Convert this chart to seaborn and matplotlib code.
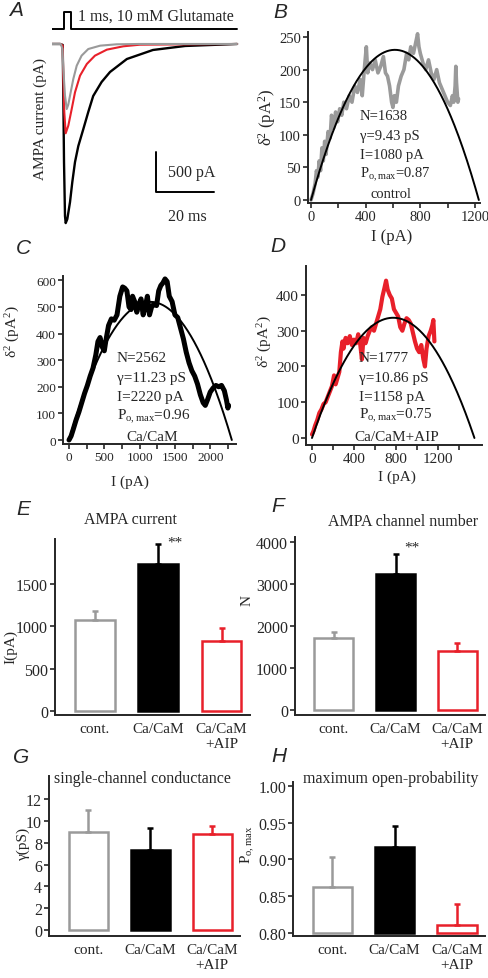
import numpy as np
import pandas as pd
import matplotlib
matplotlib.use('Agg')
import matplotlib.pyplot as plt
import seaborn as sns

# ---- panel A: example AMPA currents (ms, pA) ----
ctrl_t = [0, 3.0, 3.6, 3.9, 4.48, 5.07, 5.6, 6.21, 7.34, 8.52, 10.2, 12.5, 16.6, 22.3, 30.0, 63.8]
ctrl_i = [0, 0, -60, -313, -646, -813, -760, -646, -438, -271, -146, -63, -21, -4, 0, 0]
aip_t = [0, 3.0, 3.69, 3.9, 4.24, 4.72, 5.62, 6.79, 7.93, 9.66, 12.0, 14.8, 18.9, 24.6, 30.3, 63.8]
aip_i = [0, 0, -21, -438, -854, -1116, -1021, -813, -604, -396, -250, -146, -71, -29, -9, 0]
cam_t = [0, 2.76, 3.69, 3.9, 4.14, 4.48, 4.72, 5.28, 6.21, 7.0, 7.93, 9.07, 10.8, 12.5, 14.2,
         17.1, 20.0, 25.8, 34.8, 45.9, 63.8]
cam_i = [0, 0, -12, -646, -1475, -2150, -2238, -2188, -1975, -1725, -1475, -1275, -1063, -850,
         -650, -475, -350, -188, -75, -25, 0]
stim_t = [0, 4.14, 4.14, 6.55, 6.55, 63.8]
stim_y = [188, 188, 400, 400, 188, 188]

# ---- panels B-D: variance vs mean current ----
b_I = [0, 15, 30, 40, 50, 60, 70, 80, 90, 100, 110, 125, 140, 150, 165, 180, 195, 210, 225, 240,
       260, 280, 300, 320, 340, 360, 375, 390, 405, 415, 430, 450, 470, 490, 510, 530, 545, 560,
       575, 590, 600, 610, 625, 640, 660, 680, 700, 715, 730, 750, 770, 780, 790, 800, 820, 840,
       860, 880, 900, 920, 940, 960, 980, 1000, 1020, 1035, 1045, 1055, 1060, 1065, 1075, 1080]
b_var = [0, 10, 25, 45, 35, 60, 45, 80, 60, 90, 70, 105, 95, 130, 110, 135, 120, 140, 130, 150,
         140, 160, 150, 175, 165, 185, 160, 200, 235, 195, 210, 200, 215, 195, 205, 220, 195, 190,
         175, 150, 142, 160, 150, 175, 190, 200, 225, 215, 235, 225, 245, 255, 235, 225, 210, 200,
         215, 195, 185, 200, 180, 170, 160, 150, 145, 160, 150, 175, 205, 180, 150, 155]
c_I = [0, 30, 60, 100, 140, 180, 220, 260, 300, 340, 380, 410, 440, 470, 500, 520, 560, 600, 640,
       680, 720, 760, 790, 820, 850, 880, 900, 930, 960, 990, 1020, 1050, 1080, 1110, 1140, 1170,
       1200, 1240, 1270, 1300, 1330, 1360, 1390, 1420, 1460, 1500, 1540, 1580, 1620, 1660, 1700,
       1740, 1780, 1820, 1860, 1900, 1930, 1960, 2000, 2040, 2080, 2120, 2160, 2200, 2230, 2250,
       2260]
c_var = [0, 15, 40, 75, 105, 140, 175, 205, 240, 270, 320, 370, 385, 350, 335, 370, 430, 455, 450,
         470, 540, 575, 570, 560, 500, 490, 540, 520, 480, 510, 530, 470, 500, 540, 470, 500, 510,
         505, 560, 580, 590, 605, 595, 540, 520, 470, 460, 420, 380, 330, 290, 260, 240, 210, 170,
         140, 130, 150, 180, 195, 205, 200, 205, 185, 150, 120, 130]
d_I = [0, 15, 30, 50, 70, 90, 110, 130, 150, 170, 190, 210, 225, 240, 260, 275, 290, 300, 320,
       340, 360, 380, 400, 420, 440, 460, 475, 490, 510, 530, 550, 570, 590, 610, 630, 650, 670,
       690, 705, 720, 740, 760, 780, 800, 820, 840, 860, 880, 900, 920, 940, 960, 980, 1000, 1020,
       1040, 1060, 1075, 1090, 1110, 1130, 1145, 1155, 1165]
d_var = [10, 20, 35, 50, 70, 80, 95, 100, 115, 130, 145, 175, 150, 165, 185, 240, 270, 250, 280,
         265, 285, 260, 275, 265, 290, 260, 220, 280, 265, 285, 300, 310, 300, 320, 340, 360, 395,
         420, 440, 415, 400, 390, 360, 350, 340, 310, 300, 320, 335, 330, 320, 295, 270, 250, 240,
         260, 220, 200, 250, 285, 300, 315, 330, 270]
# parabola fits: unitary current i (pA) and channel number N
fit_i = [0.75, 0.90, 0.87]
fit_N = [1638, 2562, 1777]
notes_b = ['N=1638', 'γ=9.43 pS', 'I=1080 pA', 'P$_{\\rm o,max}$=0.87']
notes_c = ['N=2562', 'γ=11.23 pS', 'I=2220 pA', 'P$_{\\rm o,max}$=0.96']
notes_d = ['N=1777', 'γ=10.86 pS', 'I=1158 pA', 'P$_{\\rm o,max}$=0.75']

# ---- panels E-H: summary bars ----
groups = ['cont.', 'Ca/CaM', 'Ca/CaM\n+AIP']
amp_mean = [1065, 1735, 825]
amp_err = [115, 225, 150]
num_mean = [1715, 3235, 1405]
num_err = [140, 470, 190]
gam_mean = [9.0, 7.3, 8.75]
gam_err = [2.0, 2.0, 0.75]
po_mean = [0.8625, 0.917, 0.811]
po_err = [0.040, 0.028, 0.028]

GRAY = '#9a9a9a'
RED = '#e8202a'
edge_cols = [GRAY, 'black', RED]
face_cols = ['white', 'black', 'white']

sns.set_style('ticks')
plt.rcParams['font.family'] = ['Liberation Serif', 'DejaVu Serif']
plt.rcParams['mathtext.fontset'] = 'custom'
plt.rcParams['mathtext.rm'] = 'Liberation Serif'
plt.rcParams['mathtext.it'] = 'Liberation Serif:italic'
plt.rcParams['axes.linewidth'] = 1.4
plt.rcParams['xtick.major.width'] = 1.2
plt.rcParams['ytick.major.width'] = 1.2
plt.rcParams['xtick.minor.width'] = 1.2

W, H = 488, 979
fig = plt.figure(figsize=(W / 100, H / 100), dpi=100)


def add_ax(l, t, r, b):
    return fig.add_axes([l / W, 1 - b / H, (r - l) / W, (b - t) / H])


def ftext(x, y, s, **kw):
    kw.setdefault('va', 'center')
    fig.text(x / W, 1 - y / H, s, **kw)


# ---------- A ----------
axA = add_ax(52, 8, 240, 228)
sns.lineplot(x=cam_t, y=cam_i, sort=False, ax=axA, color='black', lw=1.7)
sns.lineplot(x=aip_t, y=aip_i, sort=False, ax=axA, color=RED, lw=1.5)
sns.lineplot(x=ctrl_t, y=ctrl_i, sort=False, ax=axA, color=GRAY, lw=1.5)
axA.plot(stim_t, stim_y, color='black', lw=1.4)
axA.plot([35.9, 35.9, 55.9], [-1350, -1850, -1850], color='black', lw=1.4)
axA.text(40, -1600, '500 pA', fontsize=11.5, va='center')
axA.text(46.6, -2150, '20 ms', fontsize=11.5, va='center', ha='center')
axA.set_xlim(0, 64.8)
axA.set_ylim(-2287, 462)
axA.axis('off')
ftext(78, 17, '1 ms, 10 mM Glutamate', fontsize=11.5)
ftext(40, 119, 'AMPA current (pA)', fontsize=11, rotation=90, ha='center')


# ---------- B, C, D ----------
def var_panel(ax, I, v, col, lw, k, xlim, ylim, xmaj, xmin, yt, tfs):
    sns.lineplot(x=I, y=v, sort=False, ax=ax, color=col, lw=lw)
    grid = np.linspace(0, fit_i[k] * fit_N[k], 200)
    ax.plot(grid, fit_i[k] * grid - grid ** 2 / fit_N[k], color='black', lw=1.4)
    ax.set_xlim(*xlim)
    ax.set_ylim(*ylim)
    ax.set_xticks(xmaj)
    ax.set_xticks(xmin, minor=True)
    ax.set_yticks(yt)
    ax.tick_params(labelsize=tfs, length=3.5, pad=1.5)
    ax.tick_params(which='minor', length=3.5)
    ax.set_xlabel('')
    ax.set_ylabel('')
    sns.despine(ax=ax)


axB = add_ax(308, 33, 480, 204)
var_panel(axB, b_I, b_var, GRAY, 2.6, 0, (-22, 1237), (-4.6, 257.7),
          [0, 400, 800, 1200], [200, 600, 1000], range(0, 251, 50), 10.5)
axC = add_ax(63, 277, 236, 445)
var_panel(axC, c_I, c_var, 'black', 3.6, 1, (-85, 2365), (-15, 616),
          range(0, 2001, 500), range(250, 2300, 500), range(0, 601, 100), 9.5)
axD = add_ax(306, 267, 482, 446)
var_panel(axD, d_I, d_var, RED, 3.0, 2, (-57, 1618), (-19.6, 481),
          [0, 400, 800, 1200], [200, 600, 1000, 1400], range(0, 401, 100), 11)

ftext(392, 237, 'I (pA)', fontsize=12, ha='center')
ftext(130, 482, 'I (pA)', fontsize=11, ha='center')
ftext(397, 477, 'I (pA)', fontsize=11, ha='center')
ftext(267, 117, 'δ$^2$ (pA$^2$)', fontsize=12, rotation=90, ha='center')
ftext(13, 332, 'δ$^2$ (pA$^2$)', fontsize=11, rotation=90, ha='center')
ftext(265, 342, 'δ$^2$ (pA$^2$)', fontsize=11, rotation=90, ha='center')

for s, y in zip(notes_b, [117, 137, 156, 175]):
    ftext(360, y, s, fontsize=10.5)
ftext(391, 195, 'control', fontsize=10.5, ha='center')
for s, y in zip(notes_c, [359, 379, 397, 417]):
    ftext(117, y, s, fontsize=11)
ftext(152, 438, 'Ca/CaM', fontsize=11, ha='center')
for s, y in zip(notes_d, [359, 379, 397, 416]):
    ftext(359, y, s, fontsize=11)
ftext(397, 438, 'Ca/CaM+AIP', fontsize=11, ha='center')


# ---------- E, F, G, H ----------
def bar_panel(ax, mean, err, ylim, yt, base=0.0, fmt=None):
    df = pd.DataFrame({'group': groups, 'value': mean})
    sns.barplot(data=df, x='group', y='value', hue='group', palette=face_cols,
                legend=False, ax=ax, width=0.63, errorbar=None)
    for p, m, fc, ec in zip(ax.patches, mean, face_cols, edge_cols):
        p.set_facecolor(fc)
        p.set_edgecolor(ec)
        p.set_linewidth(1.8)
        p.set_y(base)
        p.set_height(m - base)
    for k in range(3):
        ax.errorbar(k, mean[k], yerr=[[0], [err[k]]], fmt='none', ecolor=edge_cols[k],
                    elinewidth=1.8, capsize=2.5, capthick=1.8)
    ax.set_xlim(-0.63, 2.45)
    ax.set_ylim(*ylim)
    ax.set_yticks(yt)
    if fmt:
        ax.set_yticklabels([fmt % t for t in yt])
    ax.tick_params(axis='x', length=0, pad=5, labelsize=11)
    ax.tick_params(axis='y', length=3.5, pad=1.5, labelsize=11.5)
    ax.set_xlabel('')
    ax.set_ylabel('')
    sns.despine(ax=ax)


axE = add_ax(55, 540, 250, 716)
bar_panel(axE, amp_mean, amp_err, (-47, 2024), [0, 500, 1000, 1500])
axE.text(1.27, 1990, '**', ha='center', va='center', fontsize=11)
axF = add_ax(295, 538, 485, 716)
bar_panel(axF, num_mean, num_err, (-119, 4119), [0, 1000, 2000, 3000, 4000])
axF.text(1.26, 3880, '**', ha='center', va='center', fontsize=11)
axG = add_ax(49, 777, 240, 937)
bar_panel(axG, gam_mean, gam_err, (-0.54, 14.1), range(0, 13, 2))
axH = add_ax(293, 783, 485, 937)
bar_panel(axH, po_mean, po_err, (0.7959, 1.005), [0.80, 0.85, 0.90, 0.95, 1.00], base=0.8,
          fmt='%.2f')

ftext(130, 520, 'AMPA current', fontsize=11.5, ha='center')
ftext(403, 522, 'AMPA channel number', fontsize=11.5, ha='center')
ftext(142, 779, 'single-channel conductance', fontsize=11.5, ha='center')
ftext(391, 779, 'maximum open-probability', fontsize=11.5, ha='center')
ftext(11, 647, 'I(pA)', fontsize=11, rotation=90, ha='center')
ftext(247, 600, 'N', fontsize=11, rotation=90, ha='center')
ftext(23, 843, 'γ(pS)', fontsize=11, rotation=90, ha='center')
ftext(248, 845, 'P$_{\\rm o,max}$', fontsize=11, rotation=90, ha='center')

# panel letters
for lab, x, y in [('A', 16, 10), ('B', 280, 12), ('C', 23, 248), ('D', 278, 246),
                  ('E', 23, 510), ('F', 278, 507), ('G', 21, 758), ('H', 279, 756)]:
    ftext(x, y, lab, fontsize=15, ha='center', family='Liberation Sans', style='italic')

fig.savefig('out.png', dpi=100)
